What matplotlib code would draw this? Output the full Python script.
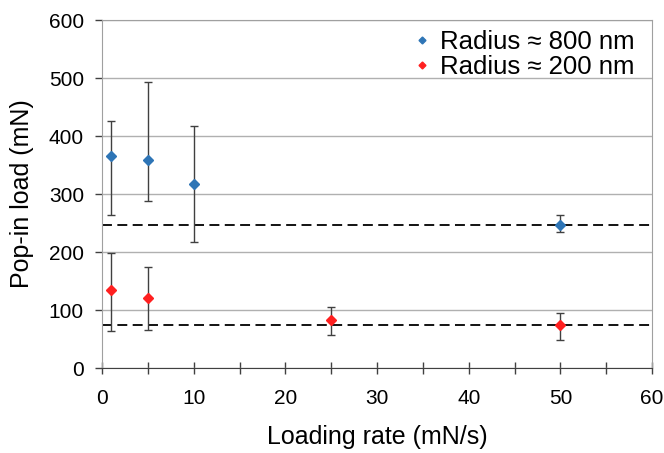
import matplotlib
matplotlib.use("Agg")
import matplotlib.pyplot as plt
from matplotlib.ticker import MultipleLocator

plt.rcParams['font.family'] = ['Liberation Sans', 'DejaVu Sans']

# Radius ~ 800 nm
rate_800 = [1, 5, 10, 50]
load_800 = [366, 359, 318, 247]
err_lo_800 = [102, 71, 100, 12]
err_hi_800 = [60, 134, 100, 17]

# Radius ~ 200 nm
rate_200 = [1, 5, 25, 50]
load_200 = [135, 121, 82, 74]
err_lo_200 = [72, 55, 25, 26]
err_hi_200 = [64, 53, 24, 20]

ref_lines = [246, 75]

fig = plt.figure(figsize=(6.64, 4.53), dpi=100)
ax = fig.add_axes([0.1536, 0.1876, 0.8284, 0.7682])

for y in ref_lines:
    ax.axhline(y, color='black', linestyle=(0, (5.5, 3)), linewidth=1.3, zorder=2)

ax.errorbar(rate_800, load_800, yerr=[err_lo_800, err_hi_800], fmt='D', color='#2e75b6',
            ecolor='#404040', elinewidth=1, capsize=3, capthick=1, markersize=5,
            label='Radius \u2248 800 nm', zorder=3)
ax.errorbar(rate_200, load_200, yerr=[err_lo_200, err_hi_200], fmt='D', color='#ff2020',
            ecolor='#404040', elinewidth=1, capsize=3, capthick=1, markersize=5,
            label='Radius \u2248 200 nm', zorder=3)

ax.set_xlim(0, 60)
ax.set_ylim(0, 600)
ax.xaxis.set_major_locator(MultipleLocator(10))
ax.xaxis.set_minor_locator(MultipleLocator(5))
ax.yaxis.set_major_locator(MultipleLocator(100))
ax.yaxis.grid(True, color='#b0b0b0', linewidth=1)
ax.set_axisbelow(True)

for side in ['top', 'right', 'left']:
    ax.spines[side].set_color('#a0a0a0')
ax.spines['bottom'].set_color('#404040')
ax.tick_params(axis='x', which='both', direction='inout', length=8.6, width=1,
               color='#404040', labelsize=15, pad=11)
ax.tick_params(axis='y', direction='out', length=5, width=1, color='#404040',
               labelsize=15, pad=8)

ax.set_xlabel('Loading rate (mN/s)', fontsize=18)
ax.set_ylabel('Pop-in load (mN)', fontsize=18)
ax.xaxis.label.set_va('center')
ax.yaxis.label.set_va('center')
ax.xaxis.set_label_coords(0.5, -0.198)
ax.yaxis.set_label_coords(-0.145, 0.5)

handles, labels = ax.get_legend_handles_labels()
handles = [h[0] for h in handles]
leg = ax.legend(handles, labels, loc='upper right', bbox_to_anchor=(0.987, 1.0),
                fontsize=18.5, frameon=False, handlelength=0.5, handletextpad=0.45,
                borderaxespad=0.0, labelspacing=0.02, markerscale=0.7)

fig.savefig('out.png', dpi=100)
